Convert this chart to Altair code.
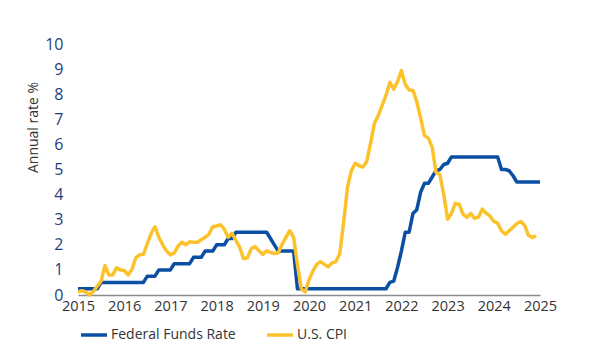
import altair as alt
import pandas as pd

# Monthly observations, first point plotted at 2015.0, one step = 1 month
fed_funds = (
    [0.25] * 6 + [0.5] * 12 + [0.75] * 3 + [1.0] * 4 + [1.25] * 5 + [1.5] * 3 +
    [1.75] * 3 + [2.0] * 3 + [2.25] * 2 + [2.5] * 9 + [2.25, 2.0] + [1.75] * 5 +
    [0.25] * 24 +
    [0.5, 0.55, 1.1, 1.75, 2.5, 2.5, 3.25, 3.4, 4.1, 4.45, 4.45, 4.7, 4.95, 5.0, 5.2, 5.25] +
    [5.5] * 13 + [5.0, 5.0, 4.95, 4.75] + [4.5] * 7
)

cpi = [
    0.12, 0.17, 0.12, 0.0, 0.15, 0.35, 0.55, 1.17, 0.8, 0.8,
    1.08, 1.0, 0.98, 0.8, 1.02, 1.48, 1.6, 1.62, 2.05, 2.45,
    2.72, 2.3, 2.0, 1.75, 1.6, 1.68, 1.95, 2.1, 2.0, 2.12,
    2.1, 2.1, 2.2, 2.3, 2.42, 2.72, 2.75, 2.8, 2.62, 2.3,
    2.46, 2.18, 1.9, 1.45, 1.48, 1.85, 1.93, 1.76, 1.62, 1.76,
    1.7, 1.65, 1.68, 2.02, 2.3, 2.56, 2.3, 1.2, 0.25, 0.12,
    0.6, 0.95, 1.22, 1.33, 1.22, 1.12, 1.28, 1.33, 1.65, 2.9,
    4.3, 4.95, 5.25, 5.15, 5.1, 5.32, 6.05, 6.85, 7.15, 7.55,
    7.95, 8.47, 8.2, 8.5, 8.94, 8.4, 8.17, 8.15, 7.7, 7.05,
    6.35, 6.25, 5.88, 4.88, 4.8, 4.0, 3.02, 3.25, 3.65, 3.62,
    3.22, 3.09, 3.25, 3.05, 3.1, 3.42, 3.26, 3.15, 2.93, 2.86,
    2.56, 2.42, 2.56, 2.7, 2.85, 2.93, 2.78, 2.38, 2.29, 2.36,
]

series_names = ["Federal Funds Rate", "U.S. CPI"]
series_colors = ["#0a4fa3", "#fcc22c"]
year_ticks = list(range(2015, 2026))
rate_ticks = list(range(0, 11))

rows = []
for i, v in enumerate(fed_funds):
    rows.append({"t": 2015 + i / 12, "value": v, "series": series_names[0]})
for i, v in enumerate(cpi):
    rows.append({"t": 2015 + i / 12, "value": v, "series": series_names[1]})
df = pd.DataFrame(rows)

FONT = "Open Sans"

chart = (
    alt.Chart(df)
    .mark_line(strokeWidth=3.5, strokeJoin="round")
    .encode(
        x=alt.X(
            "t:Q",
            scale=alt.Scale(domain=[2015, 2025], nice=False, zero=False),
            axis=alt.Axis(
                values=year_ticks, format="d", title=None, grid=False, ticks=False,
                domainColor="#8c8c8c", domainWidth=1.5,
                labelColor="#333333", labelFontSize=14.5, labelFont=FONT,
                labelPadding=4, labelFlush=False, labelOverlap=False,
            ),
        ),
        y=alt.Y(
            "value:Q",
            scale=alt.Scale(domain=[0, 10], nice=False),
            axis=alt.Axis(
                values=rate_ticks, title="Annual rate %", grid=False, ticks=False,
                domain=False, labelColor="#1f3d7a", labelFontSize=16, labelFont=FONT,
                labelPadding=15, labelFlush=False, labelOverlap=False,
                titleFont=FONT, titleFontSize=14, titleFontWeight="normal",
                titleColor="#333333", titleX=-45, titleY=83, titleAngle=270,
                titleAlign="center", titleBaseline="middle",
            ),
        ),
        color=alt.Color(
            "series:N",
            scale=alt.Scale(domain=series_names, range=series_colors),
            legend=alt.Legend(
                title=None, orient="none", legendX=1, legendY=276,
                direction="horizontal", symbolType="stroke", symbolSize=676,
                symbolStrokeWidth=3.5, labelFont=FONT, labelFontSize=14,
                labelColor="#333333", labelOffset=2, columnPadding=24,
            ),
        ),
    )
    .properties(
        width=462,
        height=251,
        autosize=alt.AutoSizeParams(type="none"),
        padding={"left": 70, "top": 36, "right": 50, "bottom": 60},
    )
    .configure_view(stroke=None)
)

chart.save("out.html", embed_options={"renderer": "svg", "actions": False})
